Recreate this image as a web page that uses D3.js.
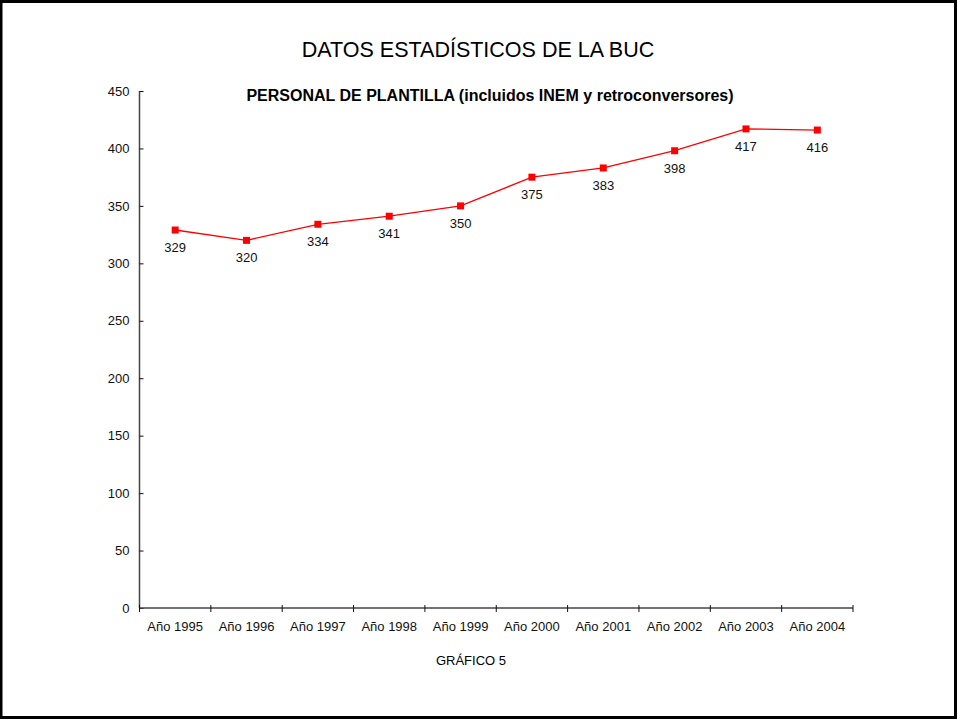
<!DOCTYPE html>
<html>
<head>
<meta charset="utf-8">
<script src="https://cdn.jsdelivr.net/npm/d3@7"></script>
<style>
  body { margin: 0; background: #fff; }
  svg { display: block; font-family: "Liberation Sans", Arial, sans-serif; }
</style>
</head>
<body>
<svg id="chart" width="957" height="720"></svg>
<script>
const years = ['Año 1995', 'Año 1996', 'Año 1997', 'Año 1998', 'Año 1999',
               'Año 2000', 'Año 2001', 'Año 2002', 'Año 2003', 'Año 2004'];
const personal = [329, 320, 334, 341, 350, 375, 383, 398, 417, 416];
const yTicks = [0, 50, 100, 150, 200, 250, 300, 350, 400, 450];

const svg = d3.select('#chart');
const W = 957, H = 720;
const m = {left: 139.5, right: 104, top: 91, bottom: 112};

// frame
svg.append('rect')
  .attr('x', 1).attr('y', 1.5)
  .attr('width', W - 2.5).attr('height', H - 4)
  .attr('fill', 'white')
  .attr('stroke', 'black').attr('stroke-width', 3);

const x = d3.scaleBand().domain(years).range([m.left, W - m.right]);
const y = d3.scaleLinear().domain([0, 450]).range([H - m.bottom, m.top]);

// titles
svg.append('text')
  .attr('x', 478).attr('y', 57)
  .attr('text-anchor', 'middle')
  .style('font-size', '21.5px')
  .text('DATOS ESTADÍSTICOS DE LA BUC');

svg.append('text')
  .attr('x', 490).attr('y', 101)
  .attr('text-anchor', 'middle')
  .style('font-size', '16px').style('font-weight', 'bold')
  .text('PERSONAL DE PLANTILLA (incluidos INEM y retroconversores)');

// y axis
const yAxis = svg.append('g')
  .attr('transform', `translate(${m.left},0)`)
  .call(d3.axisLeft(y).tickValues(yTicks).tickSize(4).tickPadding(6));
yAxis.selectAll('.tick line').attr('x2', 4);
yAxis.selectAll('text').style('font-size', '13px').attr('fill', '#111');
yAxis.select('.domain').attr('d', `M0,${y(450)}V${y(0)}`);

// x axis
const xAxis = svg.append('g')
  .attr('transform', `translate(0,${y(0)})`)
  .call(d3.axisBottom(x).tickSize(0).tickPadding(14));
xAxis.select('.domain').attr('d', `M${m.left},0H${W - m.right}`);
xAxis.selectAll('text').style('font-size', '13px').attr('fill', '#111');
xAxis.selectAll('.sep')
  .data(years.map(d => x(d)).concat([x(years[years.length - 1]) + x.bandwidth()]))
  .enter().append('line')
  .attr('x1', d => d).attr('x2', d => d)
  .attr('y1', -3).attr('y2', 4)
  .attr('stroke', '#111');

svg.selectAll('.domain').attr('stroke', '#444').attr('stroke-width', 1.5);
svg.selectAll('.tick line').attr('stroke', '#111');

// line
const cx = d => x(d) + x.bandwidth() / 2;
svg.append('path')
  .datum(personal)
  .attr('fill', 'none')
  .attr('stroke', '#ff0000')
  .attr('stroke-width', 1.3)
  .attr('d', d3.line().x((d, i) => cx(years[i])).y(d => y(d)));

svg.selectAll('.pt')
  .data(personal).enter().append('rect')
  .attr('x', (d, i) => cx(years[i]) - 3.5)
  .attr('y', d => y(d) - 3.5)
  .attr('width', 7).attr('height', 7)
  .attr('fill', '#ff0000');

svg.selectAll('.lbl')
  .data(personal).enter().append('text')
  .attr('x', (d, i) => cx(years[i]))
  .attr('y', d => y(d) + 22)
  .attr('text-anchor', 'middle')
  .style('font-size', '13px')
  .attr('fill', '#111')
  .text(d => d);

svg.append('text')
  .attr('x', 471).attr('y', 665)
  .attr('text-anchor', 'middle')
  .style('font-size', '13px')
  .text('GRÁFICO 5');
</script>
</body>
</html>
